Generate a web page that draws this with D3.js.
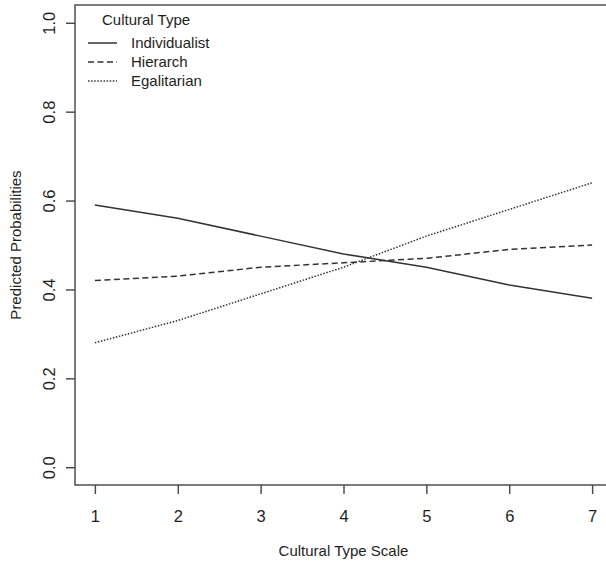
<!DOCTYPE html>
<html>
<head>
<meta charset="utf-8">
<script src="https://cdn.jsdelivr.net/npm/d3@7"></script>
<style>
  body { margin: 0; background: #fff; }
  svg { display: block; font-family: "Liberation Sans", Arial, sans-serif; }
</style>
</head>
<body>
<svg id="chart" width="606" height="562"></svg>
<script>
// data
const scalePoints = [1, 2, 3, 4, 5, 6, 7];
const individualist = [0.59, 0.56, 0.52, 0.48, 0.45, 0.41, 0.38];
const hierarch = [0.42, 0.43, 0.45, 0.46, 0.47, 0.49, 0.50];
const egalitarian = [0.28, 0.33, 0.39, 0.45, 0.52, 0.58, 0.64];
const yTicks = [0, 0.2, 0.4, 0.6, 0.8, 1.0];
const seriesNames = ['Individualist', 'Hierarch', 'Egalitarian'];

const svg = d3.select('#chart');
const ink = '#1e1e1e';
const axisInk = '#444';

// R-style plot region: data range padded by 4%
const x = d3.scaleLinear().domain([0.76, 7.24]).range([75, 612]);
const y = d3.scaleLinear().domain([-0.04, 1.04]).range([485, 5]);

const styles = [
  { dash: null },
  { dash: '6,3.5' },
  { dash: '1.5,1.6' }
];
const series = [individualist, hierarch, egalitarian];

// box
svg.append('rect')
  .attr('x', x.range()[0]).attr('y', y.range()[1])
  .attr('width', x.range()[1] - x.range()[0])
  .attr('height', y.range()[0] - y.range()[1])
  .attr('fill', 'none')
  .attr('stroke', axisInk)
  .attr('stroke-width', 1.4);

// x axis
const gx = svg.append('g')
  .attr('transform', 'translate(0,' + y.range()[0] + ')')
  .call(d3.axisBottom(x).tickValues(scalePoints).tickFormat(d3.format('d')).tickSize(9).tickSizeOuter(0));
gx.select('.domain').remove();
gx.selectAll('line').attr('stroke', axisInk).attr('stroke-width', 1.4);
gx.selectAll('text')
  .attr('y', 0).attr('dy', null)
  .attr('transform', 'translate(0,37)')
  .attr('font-size', 16.5).attr('fill', ink)
  .attr('font-family', '"Liberation Sans", Arial, sans-serif');

// y axis
const gy = svg.append('g')
  .attr('transform', 'translate(' + x.range()[0] + ',0)')
  .call(d3.axisLeft(y).tickValues(yTicks).tickFormat(d3.format('.1f')).tickSize(9).tickSizeOuter(0));
gy.select('.domain').remove();
gy.selectAll('line').attr('stroke', axisInk).attr('stroke-width', 1.4);
gy.selectAll('text')
  .attr('x', null)
  .attr('text-anchor', 'middle')
  .attr('transform', 'translate(-19,0) rotate(-90)')
  .attr('dy', '-0.05em')
  .attr('font-size', 16.5).attr('fill', ink)
  .attr('font-family', '"Liberation Sans", Arial, sans-serif');

// axis titles
svg.append('text')
  .attr('x', (x.range()[0] + x.range()[1]) / 2)
  .attr('y', 556)
  .attr('text-anchor', 'middle')
  .attr('font-size', 15).attr('fill', ink)
  .text('Cultural Type Scale');

svg.append('text')
  .attr('transform', 'translate(21,' + (y.range()[0] + y.range()[1]) / 2 + ') rotate(-90)')
  .attr('text-anchor', 'middle')
  .attr('font-size', 15).attr('fill', ink)
  .text('Predicted Probabilities');

// lines
const line = d3.line()
  .x((d, i) => x(scalePoints[i]))
  .y(d => y(d));

series.forEach((s, i) => {
  svg.append('path')
    .datum(s)
    .attr('d', line)
    .attr('fill', 'none')
    .attr('stroke', '#333')
    .attr('stroke-width', 1.5)
    .attr('stroke-dasharray', styles[i].dash);
});

// legend
const leg = svg.append('g');
leg.append('text')
  .attr('x', 102).attr('y', 25)
  .attr('font-size', 15).attr('fill', ink)
  .text('Cultural Type');

seriesNames.forEach((name, i) => {
  const ly = 43 + i * 19;
  leg.append('line')
    .attr('x1', 88).attr('x2', 117)
    .attr('y1', ly).attr('y2', ly)
    .attr('stroke', '#333')
    .attr('stroke-width', 1.5)
    .attr('stroke-dasharray', styles[i].dash);
  leg.append('text')
    .attr('x', 131).attr('y', ly + 5)
    .attr('font-size', 15).attr('fill', ink)
    .text(name);
});
</script>
</body>
</html>
